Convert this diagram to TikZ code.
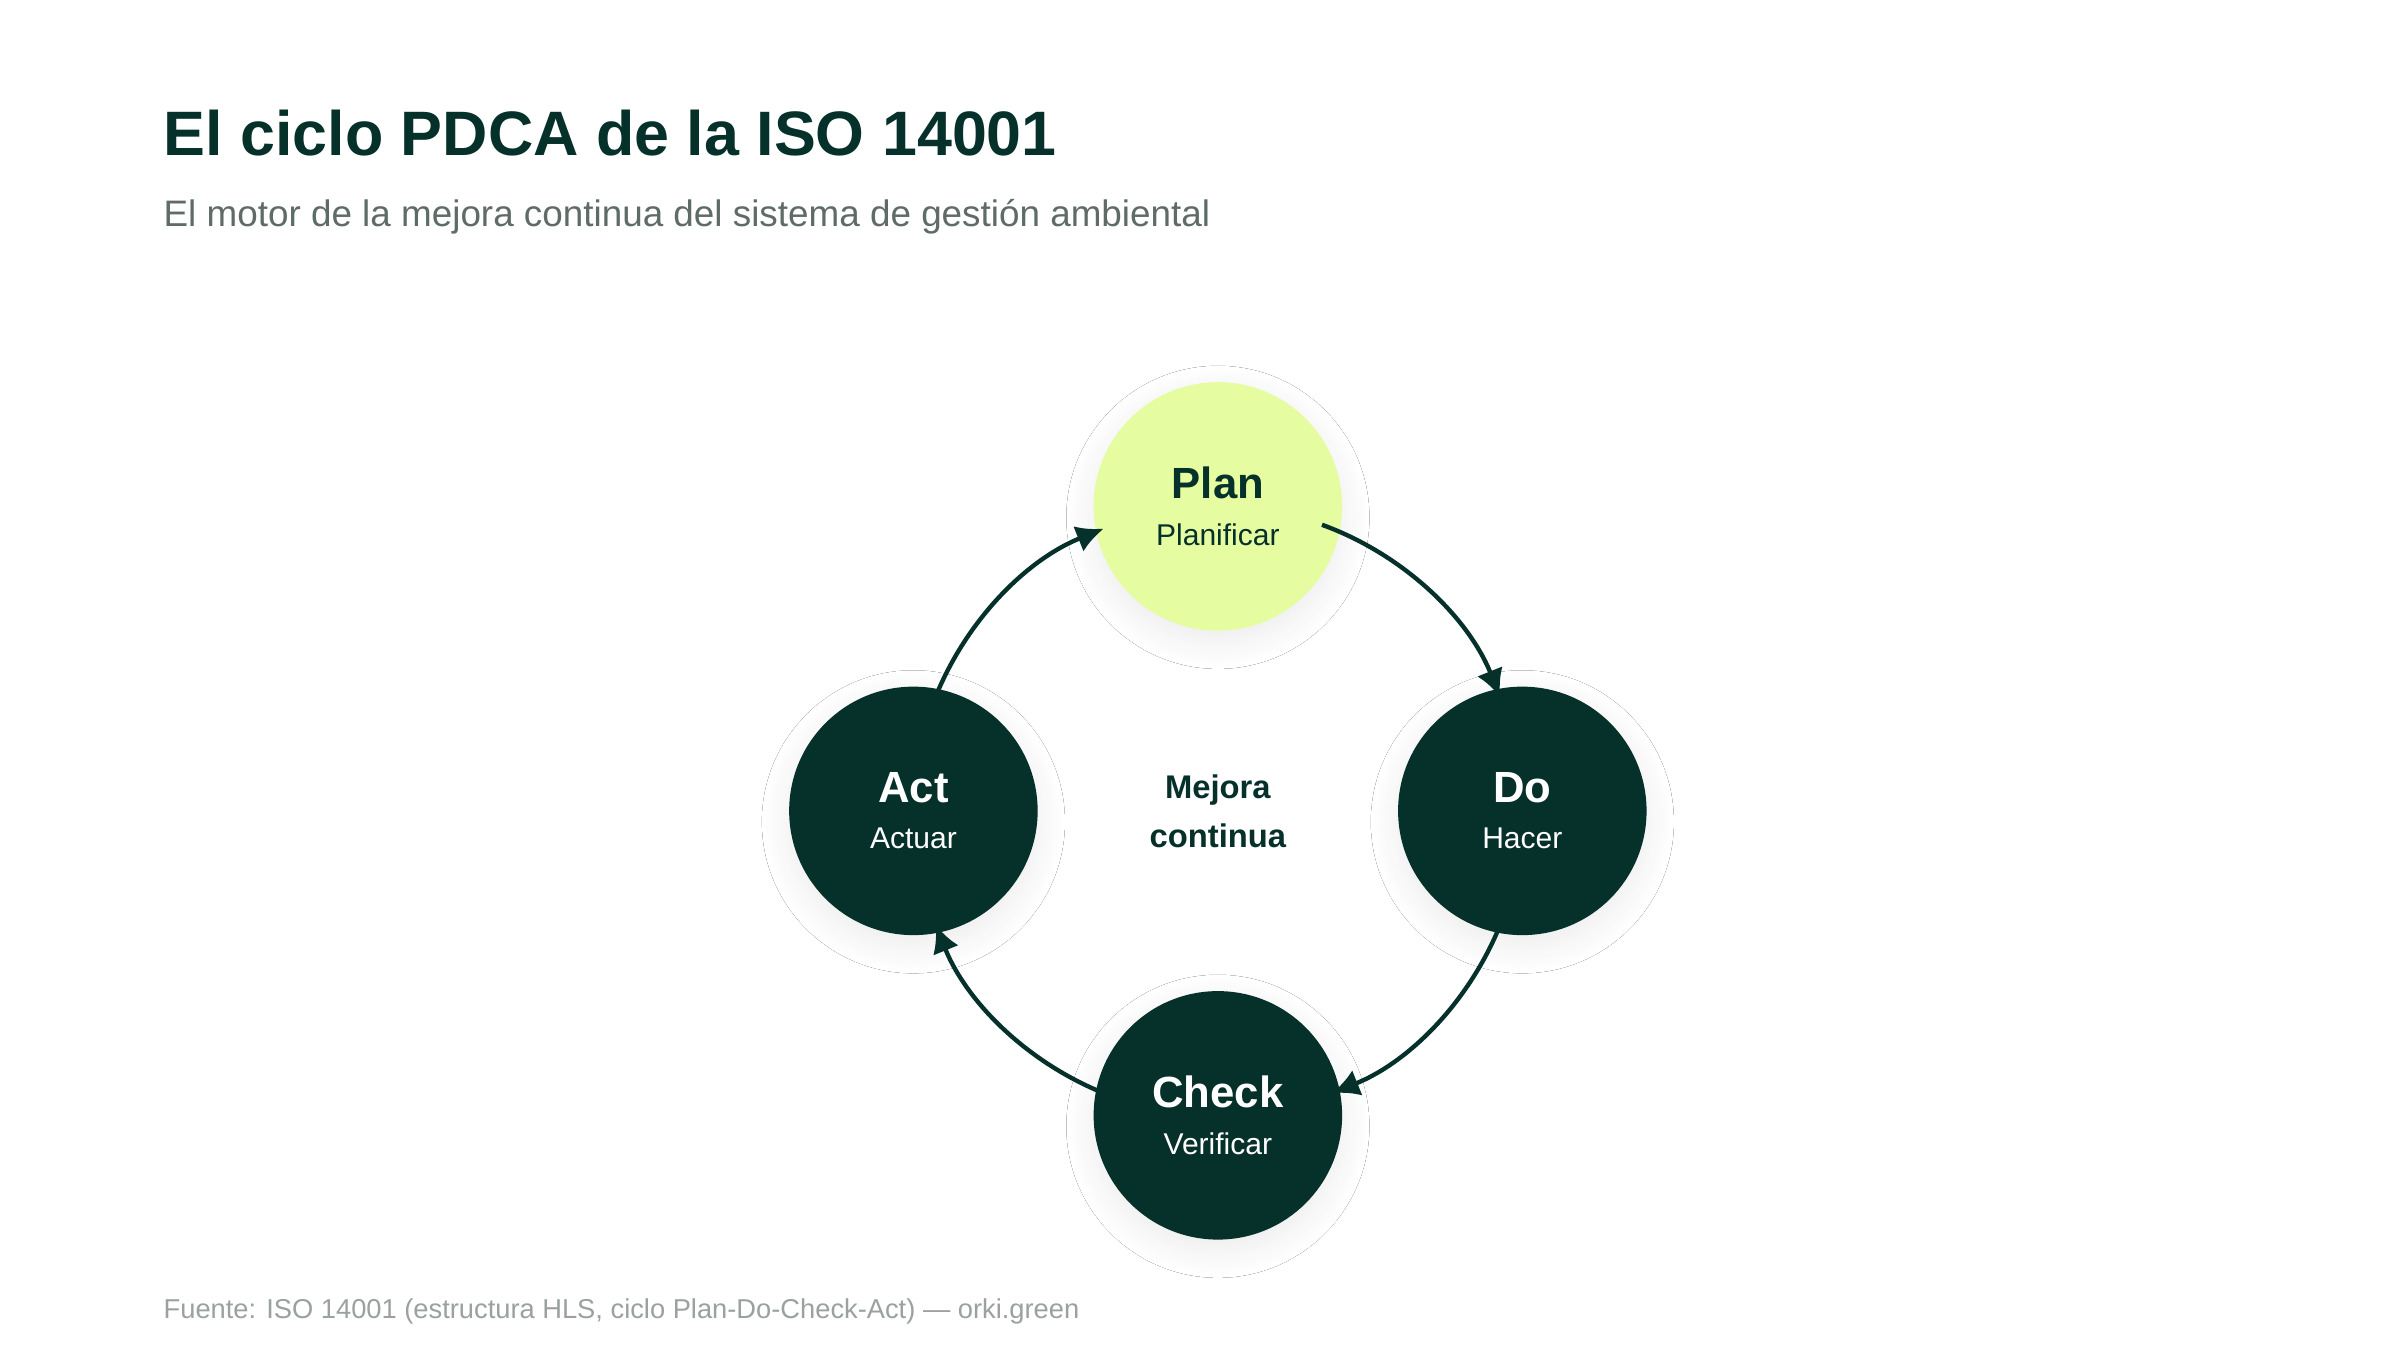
\documentclass[tikz,border=0pt]{standalone}
\usepackage{fontspec}
\setmainfont{Liberation Sans}
\usetikzlibrary{arrows.meta,positioning,shadows.blur}
\definecolor{darkgreen}{HTML}{06302A}
\definecolor{limegreen}{HTML}{E6FCA0}
\definecolor{subgray}{HTML}{5E6B66}
\definecolor{footgray}{HTML}{9AA19E}

\begin{document}
\begin{tikzpicture}[x=0.02cm,y=-0.02cm,
    phase/.style={circle, minimum size=3.2cm, fill=darkgreen, text=white, align=center,
      blur shadow={shadow blur steps=12, shadow blur radius=10pt, shadow xshift=0pt, shadow yshift=-4pt, shadow opacity=8}},
    cycle/.style={-{Latex[length=10pt,width=10pt]}, line width=1.6pt, draw=darkgreen}]
    \useasboundingbox[fill=white] (0,0) rectangle (1545,869);
    % Header
    \node[anchor=base west, inner sep=0, text=darkgreen, font=\fontsize{23}{26}\selectfont\bfseries] (title) at (105,100) {El ciclo PDCA de la ISO 14001};
    \node[anchor=base west, inner sep=0, text=subgray, font=\fontsize{13.5}{16}\selectfont] (subtitle) at (105,146) {El motor de la mejora continua del sistema de gestión ambiental};
    
    % Phases
    \node[phase, fill=limegreen, text=darkgreen] (plan) at (784,326) {{\fontsize{16}{18}\selectfont\bfseries Plan}\\[5pt]{\fontsize{11}{13}\selectfont Planificar}};
    \node[phase] (do) at (980,522) {{\fontsize{16}{18}\selectfont\bfseries Do}\\[5pt]{\fontsize{11}{13}\selectfont Hacer}};
    \node[phase] (check) at (784,718) {{\fontsize{16}{18}\selectfont\bfseries Check}\\[5pt]{\fontsize{11}{13}\selectfont Verificar}};
    \node[phase] (act) at (588,522) {{\fontsize{16}{18}\selectfont\bfseries Act}\\[5pt]{\fontsize{11}{13}\selectfont Actuar}};
    \node[align=center, text=darkgreen, font=\fontsize{12}{18}\selectfont\bfseries] (center) at (784,522) {Mejora\\continua};
    
    % Cycle
    \draw[cycle] ([shift={(-70:196)}]center.center) arc[start angle=-70, end angle=-22, radius=196];
    \draw[cycle] ([shift={(20:196)}]center.center) arc[start angle=20, end angle=68, radius=196];
    \draw[cycle] ([shift={(110:196)}]center.center) arc[start angle=110, end angle=158, radius=196];
    \draw[cycle] ([shift={(-160:196)}]center.center) arc[start angle=-160, end angle=-112, radius=196];
    
    % Footer
    \node[anchor=base west, inner sep=0, text=footgray, font=\fontsize{10}{12}\selectfont] (source) at (105,849) {Fuente: ISO 14001 (estructura HLS, ciclo Plan-Do-Check-Act) — orki.green};
\end{tikzpicture}
\end{document}
